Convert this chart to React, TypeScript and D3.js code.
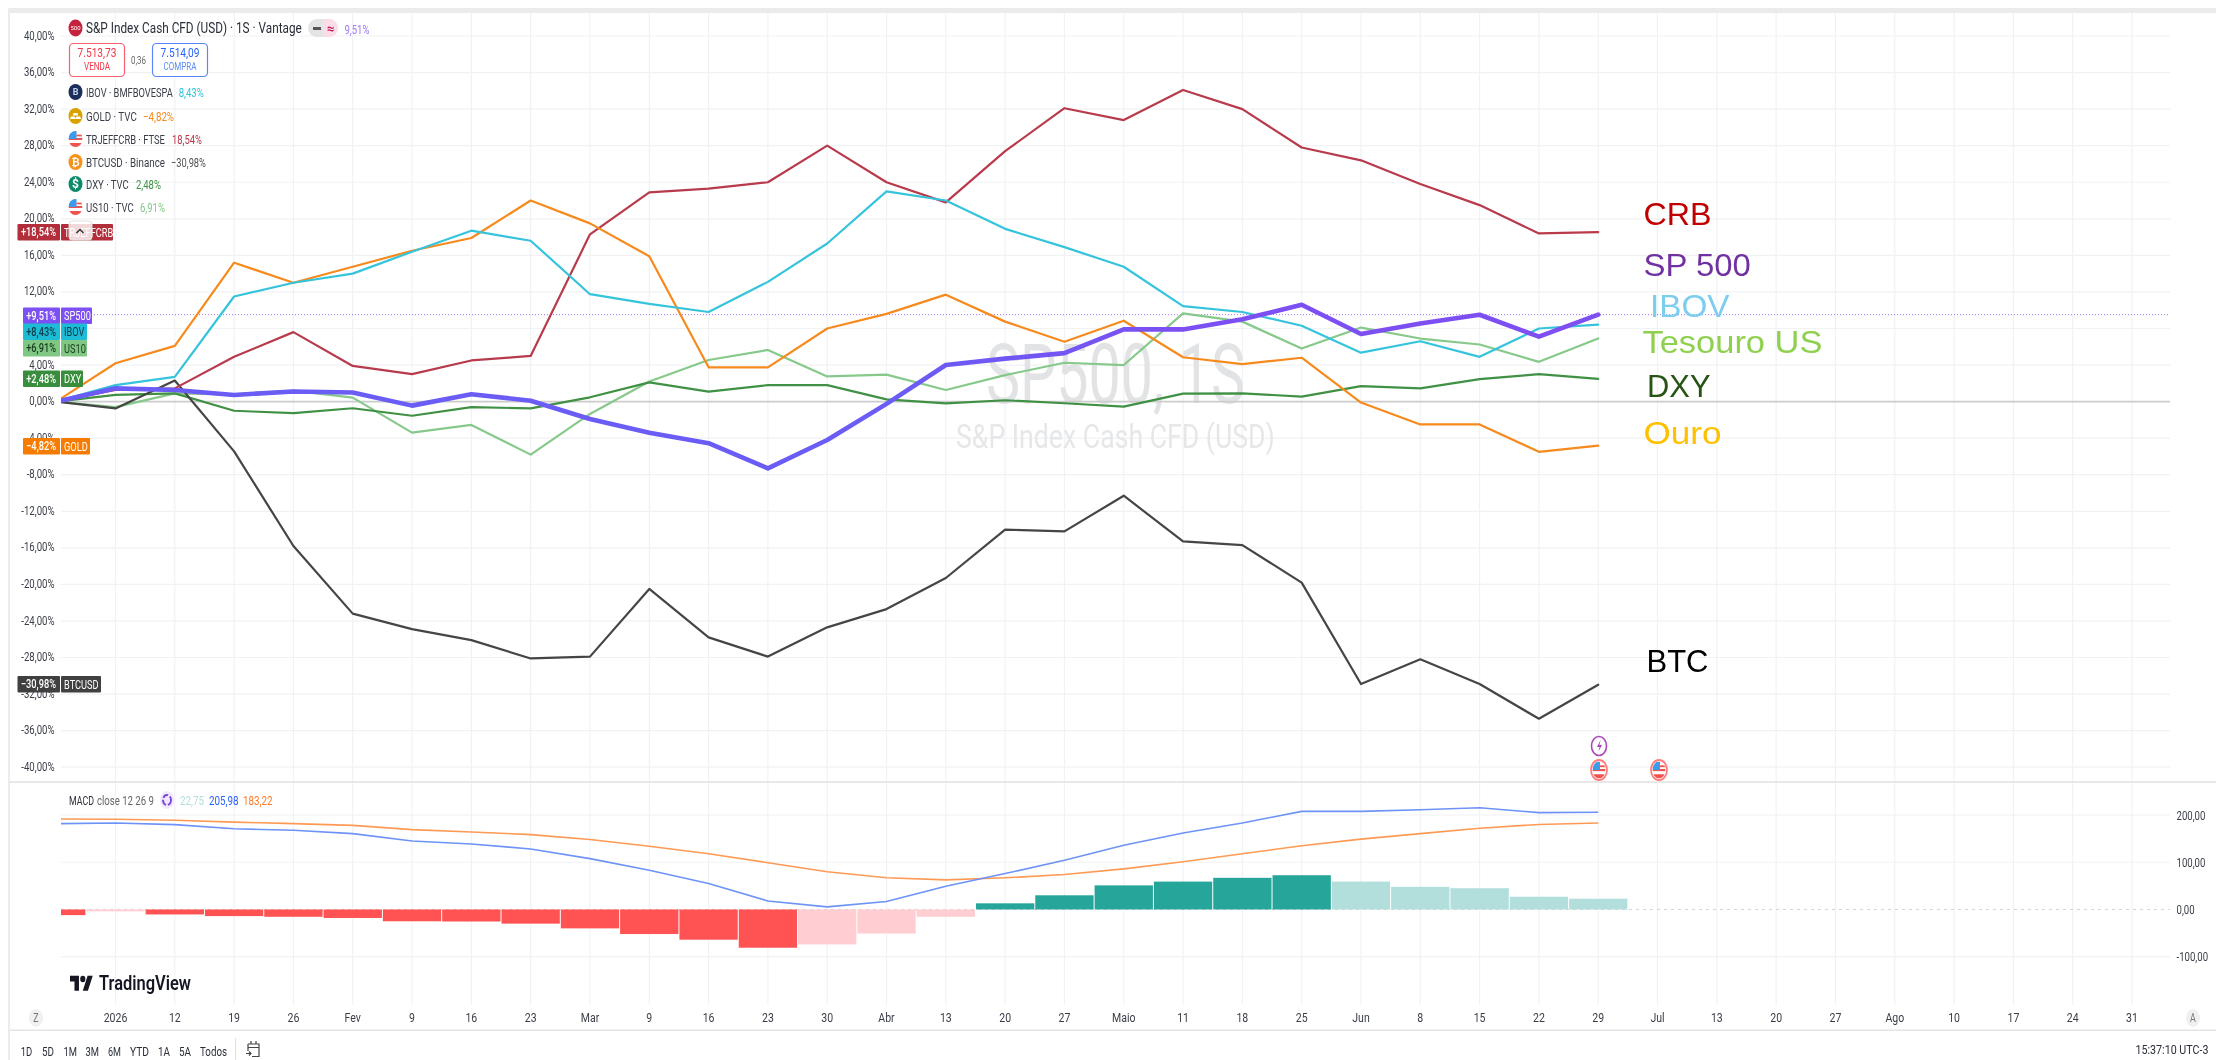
import React from "react";
import * as d3 from "d3";

// ---------- data (weekly points, first one is the week before the "2026" tick) ----------
const sp500 = [0, 1.45, 1.27, 0.73, 1.1, 1.0, -0.44, 0.8, 0.1, -1.9, -3.4, -4.55, -7.3, -4.2, -0.25, 4.0, 4.7, 5.3, 7.9, 7.9, 9.0, 10.6, 7.4, 8.55, 9.5, 7.1, 9.51];
const ibov = [0, 1.8, 2.7, 11.5, 13.0, 14.0, 16.4, 18.7, 17.6, 11.75, 10.7, 9.8, 13.1, 17.3, 23.0, 22.0, 18.9, 16.9, 14.75, 10.45, 9.8, 8.3, 5.35, 6.6, 4.9, 8.0, 8.43];
const gold = [0, 4.2, 6.1, 15.2, 13.0, 14.75, 16.5, 17.9, 22.0, 19.5, 15.9, 3.75, 3.75, 8.0, 9.6, 11.7, 8.75, 6.55, 8.85, 4.85, 4.1, 4.8, -0.1, -2.5, -2.5, -5.5, -4.82];
const crb = [0, 1.27, 1.45, 4.9, 7.6, 3.9, 3.0, 4.5, 5.0, 18.3, 22.9, 23.3, 24.0, 28.0, 24.0, 21.8, 27.4, 32.1, 30.8, 34.1, 32.0, 27.8, 26.4, 23.8, 21.5, 18.4, 18.54];
const btc = [0, -0.75, 2.3, -5.45, -15.8, -23.2, -24.9, -26.1, -28.1, -27.9, -20.5, -25.8, -27.9, -24.7, -22.7, -19.3, -14.0, -14.2, -10.3, -15.3, -15.7, -19.8, -30.9, -28.2, -30.9, -34.7, -30.98];
const dxy = [0, 0.73, 0.9, -1.0, -1.27, -0.73, -1.55, -0.6, -0.75, 0.47, 2.1, 1.1, 1.8, 1.8, 0.25, -0.2, 0.15, -0.18, -0.55, 0.87, 0.9, 0.55, 1.7, 1.45, 2.45, 3.0, 2.48];
const us10 = [0, -0.6, 0.9, 0.8, 1.2, 0.44, -3.4, -2.55, -5.8, -1.35, 2.2, 4.55, 5.65, 2.75, 2.95, 1.27, 2.9, 4.25, 4.0, 9.65, 8.75, 5.8, 8.1, 6.9, 6.25, 4.35, 6.91];

const macdLine = [181.7, 183, 179.6, 171, 167.6, 160.6, 145, 138.7, 128, 107.7, 83, 55, 18, 5.6, 17, 49, 76, 104, 136, 162, 183, 207.7, 207.7, 211, 215.5, 205, 205.98];
const signalLine = [191.5, 191, 189, 185, 181.7, 178, 169, 164, 158.5, 148, 134, 118, 99, 80, 67, 62.7, 67, 74, 86, 101, 118, 135, 149, 160.5, 172, 180, 183.22];
const histogram = [-12, -4, -10.5, -14, -15.5, -18, -25, -25.5, -30, -40, -52, -64, -81, -74, -51, -15.5, 13, 30, 51, 59, 67, 72.5, 59, 48, 45, 27, 22.75];

const priceTicks = d3.range(-40, 41, 4);
const macdTicks = [200, 100, 0, -100];
const timeLabels = ["2026", "12", "19", "26", "Fev", "9", "16", "23", "Mar", "9", "16", "23", "30", "Abr", "13", "20", "27", "Maio", "11", "18", "25", "Jun", "8", "15", "22", "29", "Jul", "13", "20", "27", "Ago", "10", "17", "24", "31"];
const rangeLabels = ["1D", "5D", "1M", "3M", "6M", "YTD", "1A", "5A", "Todos"];
const rangeX = [[20.7, 11.5], [42, 12], [63.5, 13.5], [85.5, 13.5], [108, 13], [130, 19], [158, 12], [179, 12], [200, 27]];

const seriesStyles = [
  { name: "US10", values: us10, color: "#86c98a", width: 2.2 },
  { name: "DXY", values: dxy, color: "#3f9144", width: 2.2 },
  { name: "BTC", values: btc, color: "#454545", width: 2.2 },
  { name: "CRB", values: crb, color: "#b83a4c", width: 2.2 },
  { name: "GOLD", values: gold, color: "#f78a1e", width: 2.2 },
  { name: "IBOV", values: ibov, color: "#35c4dc", width: 2.2 },
];

const tags = [
  { pct: "+18,54%", name: "TRJEFFCRB", bg: "#b22f3b", fg: "#fff", top: 224, x0: 17.5, x1: 113 },
  { pct: "+9,51%", name: "SP500", bg: "#7e4ff2", fg: "#fff", top: 307.5, x0: 23, x1: 92 },
  { pct: "+8,43%", name: "IBOV", bg: "#1fbcd6", fg: "#0b3c48", top: 323.5, x0: 23, x1: 87 },
  { pct: "+6,91%", name: "US10", bg: "#81c784", fg: "#173d1c", top: 340, x0: 23, x1: 87 },
  { pct: "+2,48%", name: "DXY", bg: "#388e3c", fg: "#fff", top: 370.5, x0: 23, x1: 83 },
  { pct: "−4,82%", name: "GOLD", bg: "#f57c00", fg: "#fff", top: 438, x0: 23, x1: 90 },
  { pct: "−30,98%", name: "BTCUSD", bg: "#3f3f3f", fg: "#fff", top: 676, x0: 17.5, x1: 101 },
];

const notes = [
  { t: "CRB", x: 1643.5, y: 225, w: 68, c: "#c00000" },
  { t: "SP 500", x: 1643.5, y: 276, w: 108, c: "#7030a0" },
  { t: "IBOV", x: 1650, y: 317, w: 79.5, c: "#7dcdee" },
  { t: "Tesouro US", x: 1642.5, y: 353, w: 180, c: "#8fd050" },
  { t: "DXY", x: 1647, y: 397, w: 63.6, c: "#275317" },
  { t: "Ouro", x: 1643.5, y: 444, w: 78, c: "#ffc000" },
  { t: "BTC", x: 1646.5, y: 672, w: 62, c: "#000" },
];

const legendRows = [
  { icon: "ibov", y: 92, label: "IBOV · BMFBOVESPA", w: 87, val: "8,43%", vx: 178.7, vw: 25, c: "#35c4dc" },
  { icon: "gold", y: 116, label: "GOLD · TVC", w: 51, val: "−4,82%", vx: 143, vw: 31, c: "#f78a1e" },
  { icon: "flag", y: 139, label: "TRJEFFCRB · FTSE", w: 79, val: "18,54%", vx: 172, vw: 30, c: "#b83a4c" },
  { icon: "btc", y: 162, label: "BTCUSD · Binance", w: 79, val: "−30,98%", vx: 171, vw: 35, c: "#555" },
  { icon: "dxy", y: 184, label: "DXY · TVC", w: 43, val: "2,48%", vx: 136, vw: 25, c: "#3f9144" },
  { icon: "flag", y: 207, label: "US10 · TVC", w: 48, val: "6,91%", vx: 140, vw: 25, c: "#86c98a" },
];

// ---------- scales ----------
const PLOT_L = 61;
const PLOT_R = 2170;
const x = d3.scaleLinear().domain([0, 34]).range([115.5, 2132]);
const y = d3.scaleLinear().domain([-40, 40]).range([767.2, 36]);
const ym = d3.scaleLinear().domain([-100, 200]).range([956.7, 815]);
const step = x(1) - x(0);
const xAt = (i: number) => x(i - 1);

const priceLine = d3.line<number>().x((_, i) => xAt(i)).y((d) => y(d));
const macdPath = d3.line<number>().x((_, i) => xAt(i)).y((d) => ym(d));

const FONT = "Roboto, sans-serif";
const NOTE_FONT = "'Liberation Sans', Arial, sans-serif";

const measureCtx = typeof document !== "undefined" ? document.createElement("canvas").getContext("2d") : null;
function fitScale(text: string, width: number, size: number, weight: number, family: string) {
  if (!measureCtx) return 0.8;
  measureCtx.font = `${weight} ${size}px ${family}`;
  const m = measureCtx.measureText(text).width;
  return m > 0 ? width / m : 0.8;
}

function T({ x: tx, y: ty, w, sx = 0.74, size = 13, fill = "#3a3e48", anchor = "start", weight = 400, family = FONT, baseline = false, children }: any) {
  const s = w ? fitScale(String(children), w, size, weight, family) : sx;
  return (
    <text transform={`translate(${tx},${ty}) scale(${s},1)`} dy={baseline ? 0 : "0.35em"} fontSize={size} fontWeight={weight} fontFamily={family} fill={fill} textAnchor={anchor}>
      {children}
    </text>
  );
}

function Flag({ id, cx, cy, rx, ry, ring }: any) {
  return (
    <g>
      <clipPath id={id}>
        <ellipse cx={cx} cy={cy} rx={rx} ry={ry} />
      </clipPath>
      <g clipPath={`url(#${id})`}>
        <rect x={cx - rx} y={cy - ry} width={2 * rx} height={2 * ry} fill="#fff" />
        <rect x={cx - rx} y={cy - 1} width={2 * rx} height={ry * 0.25} fill="#ef5350" />
        <rect x={cx - rx} y={cy + ry * 0.5} width={2 * rx} height={ry * 0.5} fill="#ef5350" />
        <rect x={cx - rx} y={cy - ry} width={rx * 1.15} height={ry} fill="#3d9be9" />
        <rect x={cx + rx * 0.15} y={cy - ry * 0.55} width={rx} height={ry * 0.22} fill="#ef5350" />
      </g>
      {ring && <ellipse cx={cx} cy={cy} rx={rx + 1.5} ry={ry + 1.5} fill="none" stroke="#ff7d7d" strokeWidth={1.8} />}
    </g>
  );
}

function Icon({ kind, cy, id }: any) {
  const cx = 75.5;
  if (kind === "flag") return <Flag id={id} cx={cx} cy={cy} rx={7} ry={8} />;
  if (kind === "gold")
    return (
      <g>
        <ellipse cx={cx} cy={cy} rx={7} ry={8} fill="#d8a300" />
        <path d={`M${cx - 1.8} ${cy - 3}h3.6l1 2.6h-5.6zM${cx - 4.6} ${cy + 0.4}h3.8l1 2.6h-5.8zM${cx + 0.8} ${cy + 0.4}h3.8l1 2.6h-5.8z`} fill="#fff" />
      </g>
    );
  const map: any = {
    ibov: { bg: "#1c2f5c", t: "B", fs: 9 },
    btc: { bg: "#f5921e", t: "₿", fs: 10 },
    dxy: { bg: "#0f8a6b", t: "$", fs: 12 },
  };
  const m = map[kind];
  return (
    <g>
      <ellipse cx={cx} cy={cy} rx={7} ry={8} fill={m.bg} />
      <text x={cx} y={cy} dy="0.36em" textAnchor="middle" fontFamily={FONT} fontWeight={700} fontSize={m.fs} fill={kind === "ibov" ? "#c8d4ee" : "#fff"}>
        {m.t}
      </text>
    </g>
  );
}

const axisLabel = (v: number) => `${v < 0 ? "-" : ""}${Math.abs(v).toFixed(2).replace(".", ",")}`;

export default function App() {
  return (
    <svg width={2216} height={1060} viewBox="0 0 2216 1060" style={{ position: "fixed", left: 0, top: 0, display: "block", background: "#fff" }}>
      <defs>
        <clipPath id="plot">
          <rect x={PLOT_L} y={13} width={PLOT_R - PLOT_L} height={770} />
        </clipPath>
        <clipPath id="pane">
          <rect x={PLOT_L} y={784} width={PLOT_R - PLOT_L} height={225} />
        </clipPath>
        <linearGradient id="spGrad" gradientUnits="userSpaceOnUse" x1={PLOT_L} x2={1598} y1={0} y2={0}>
          <stop offset="0" stopColor="#6a5cf4" />
          <stop offset="0.55" stopColor="#6a5cf4" />
          <stop offset="0.72" stopColor="#7b50f2" />
          <stop offset="1" stopColor="#7e4ff2" />
        </linearGradient>
        <filter id="soft" filterUnits="userSpaceOnUse" x={0} y={0} width={2216} height={1060}>
          <feGaussianBlur stdDeviation="0.4" />
        </filter>
      </defs>

      <g filter="url(#soft)">
        {/* frame */}
        <rect x={8} y={8} width={2208} height={5} fill="#ebebeb" />
        <rect x={8} y={8} width={2} height={1052} fill="#ececec" />

        {/* grid */}
        <g stroke="#f1f2f4" strokeWidth={1.2}>
          {timeLabels.map((_, i) => (
            <line key={i} x1={x(i)} x2={x(i)} y1={13} y2={1005} />
          ))}
          {priceTicks.filter((t) => t !== 0).map((t) => (
            <line key={t} x1={PLOT_L} x2={PLOT_R} y1={y(t)} y2={y(t)} />
          ))}
          {macdTicks.filter((t) => t !== 0).map((t) => (
            <line key={t} x1={PLOT_L} x2={PLOT_R} y1={ym(t)} y2={ym(t)} />
          ))}
        </g>

        {/* watermark */}
        <T x={986} y={403} w={259} size={84} fill="#e2e3e5" baseline>SP500, 1S</T>
        <T x={956} y={448} w={319} size={33} fill="#e6e7e9" baseline>S&amp;P Index Cash CFD (USD)</T>

        {/* zero + price lines */}
        <line x1={PLOT_L} x2={PLOT_R} y1={y(0)} y2={y(0)} stroke="#cccccc" strokeWidth={1.8} />
        <line x1={PLOT_L} x2={PLOT_R} y1={y(9.51)} y2={y(9.51)} stroke="#7e4ff2" strokeWidth={1} strokeDasharray="1 2" opacity={0.8} />

        {/* series */}
        <g clipPath="url(#plot)" fill="none" strokeLinejoin="round" strokeLinecap="round">
          {seriesStyles.map((s) => (
            <path key={s.name} d={priceLine(s.values) as string} stroke={s.color} strokeWidth={s.width} />
          ))}
          <path d={priceLine(sp500) as string} stroke="url(#spGrad)" strokeWidth={4.6} />
        </g>

        {/* MACD */}
        <line x1={PLOT_L} x2={PLOT_R} y1={ym(0)} y2={ym(0)} stroke="#d4d4d4" strokeWidth={1} strokeDasharray="3 4" />
        <g clipPath="url(#pane)">
          {histogram.map((h, i) => {
            const prev = i > 0 ? histogram[i - 1] : h - 1;
            const strong = h >= 0 ? h > prev : h < prev || i === 0;
            const fill = h >= 0 ? (strong ? "#26a69a" : "#b2dfdb") : strong ? "#ff5252" : "#ffcdd2";
            return (
              <rect key={i} x={xAt(i) - step / 2 + 0.5} width={step - 1} y={Math.min(ym(h), ym(0))} height={Math.abs(ym(h) - ym(0))} fill={fill} />
            );
          })}
          <path d={macdPath(signalLine) as string} fill="none" stroke="#ff9a55" strokeWidth={1.6} />
          <path d={macdPath(macdLine) as string} fill="none" stroke="#6d93f7" strokeWidth={1.6} />
        </g>

        {/* separators */}
        <rect x={10} y={781} width={2206} height={2} fill="#e8e8e8" />
        <rect x={10} y={1029.5} width={2206} height={1.5} fill="#e4e4e4" />

        {/* left axis */}
        {priceTicks.map((t) => (
          <T key={t} x={54.5} y={y(t) - 1} anchor="end">{axisLabel(t)}%</T>
        ))}

        {/* right axis */}
        {macdTicks.map((t) => (
          <T key={t} x={2176.5} y={ym(t)}>{axisLabel(t)}</T>
        ))}

        {/* time axis */}
        {timeLabels.map((l, i) => (
          <T key={i} x={x(i)} y={1017} anchor="middle" size={13.5} sx={0.78}>{l}</T>
        ))}
        <ellipse cx={36} cy={1018} rx={7} ry={9} fill="#f0f0f0" />
        <T x={36} y={1018} anchor="middle" size={12} fill="#777">Z</T>
        <ellipse cx={2193} cy={1018} rx={7} ry={9} fill="#f0f0f0" />
        <T x={2193} y={1018} anchor="middle" size={12} fill="#777">A</T>

        {/* tags */}
        {tags.map((t) => (
          <g key={t.name}>
            <rect x={t.x0} y={t.top} width={60 - t.x0} height={16.5} fill={t.bg} rx={1} />
            <rect x={61} y={t.top} width={t.x1 - 61} height={16.5} fill={t.bg} rx={1} />
            <T x={56} y={t.top + 8} anchor="end" size={12.5} fill={t.fg} weight={500}>{t.pct}</T>
            <T x={64} y={t.top + 8.5} size={12.5} fill={t.fg}>{t.name}</T>
          </g>
        ))}
        {/* collapse button */}
        <rect x={69} y={221} width={23} height={19} rx={3} fill="#fff" fillOpacity={0.82} stroke="#e0e0e0" />
        <path d="M76.5 233 l3.5 -3.5 l3.5 3.5" fill="none" stroke="#333" strokeWidth={1.5} />

        {/* main legend */}
        <ellipse cx={75.5} cy={28} rx={7} ry={8.5} fill="#c4213c" />
        <text x={75.5} y={28} dy="0.35em" textAnchor="middle" fontSize={6} fontFamily={FONT} fill="#fff">500</text>
        <T x={86} y={28} w={216} size={15} fill="#2a2e39">S&amp;P Index Cash CFD (USD) · 1S · Vantage</T>
        <rect x={308} y={19} width={30} height={18} rx={9} fill="#e4e4e4" />
        <path d="M323 19h6a9 9 0 0 1 0 18h-6z" fill="#fbdde8" />
        <rect x={313} y={27} width={8} height={3} fill="#555" />
        <T x={330.5} y={28} anchor="middle" size={13} sx={1} fill="#c2185b" weight={700}>≈</T>
        <T x={344.5} y={29} w={25} size={13} fill="#a07cf6">9,51%</T>

        <rect x={69.5} y={43.5} width={55} height={33} rx={4} fill="#fff" stroke="#f7606c" strokeWidth={1.2} />
        <T x={97} y={52} w={39} anchor="middle" size={13.5} fill="#f23645">7.513,73</T>
        <T x={97} y={66} w={26} anchor="middle" size={11} fill="#f23645">VENDA</T>
        <T x={131} y={60} w={15} size={11} fill="#666">0,36</T>
        <rect x={152.5} y={43.5} width={55} height={33} rx={4} fill="#fff" stroke="#5a86f7" strokeWidth={1.2} />
        <T x={180} y={52} w={39} anchor="middle" size={13.5} fill="#2962ff">7.514,09</T>
        <T x={180} y={66} w={33} anchor="middle" size={11} fill="#5d8bf7">COMPRA</T>

        {legendRows.map((r, i) => (
          <g key={r.label}>
            <Icon kind={r.icon} cy={r.y} id={`lf${i}`} />
            <T x={86} y={r.y} w={r.w} size={13} fill="#3a3e48">{r.label}</T>
            <T x={r.vx} y={r.y + 0.5} w={r.vw} size={13} fill={r.c}>{r.val}</T>
          </g>
        ))}

        {/* events */}
        <ellipse cx={1599} cy={746} rx={7.5} ry={9.5} fill="#fff" stroke="#ab47bc" strokeWidth={1.6} />
        <path d="M1600.5 740 l-3.5 7 h2.6 l-1.4 5 l3.8 -7 h-2.6z" fill="#ab47bc" />
        <Flag id="ev1" cx={1599} cy={770} rx={6.5} ry={8.5} ring />
        <Flag id="ev2" cx={1659} cy={770} rx={6.5} ry={8.5} ring />

        {/* MACD legend */}
        <T x={69} y={800} w={25} size={13} fill="#2a2e39">MACD</T>
        <T x={97} y={800} w={57} size={13} fill="#666">close 12 26 9</T>
        <ellipse cx={167} cy={800} rx={7} ry={9} fill="#f0e9fb" />
        <ellipse cx={167} cy={800} rx={4} ry={5} fill="none" stroke="#7b3fe0" strokeWidth={1.8} strokeDasharray="6 2" />
        <T x={180} y={800} w={24} size={13} fill="#b2dfdb">22,75</T>
        <T x={209} y={800} w={29.5} size={13} fill="#2962ff">205,98</T>
        <T x={243} y={800} w={29.5} size={13} fill="#ff7b26">183,22</T>

        {/* logo */}
        <g transform="translate(70,972.4) scale(0.64,0.83)" fill="#131722">
          <path d="M14 22H7V11H0V4h14v18zM28 22h-8l7.5-18h8L28 22z" />
          <circle cx={20} cy={8} r={4} />
        </g>
        <T x={99} y={983} w={92} size={20} fill="#131722" weight={600}>TradingView</T>

        {/* bottom bar */}
        {rangeLabels.map((l, i) => (
          <T key={l} x={rangeX[i][0]} y={1051} w={rangeX[i][1]} size={13.5} fill="#2a2e39">{l}</T>
        ))}
        <line x1={235.5} x2={235.5} y1={1038} y2={1060} stroke="#e0e0e0" />
        <g fill="none" stroke="#444" strokeWidth={1.2}>
          <path d="M248 1044h11v12.5h-7M248 1044v7M248 1047.5h11M251 1041v3.5M256 1041v3.5" />
          <path d="M246 1053.5h5m-2 -2l2 2l-2 2" />
        </g>
        <T x={2135.5} y={1049} w={73} size={13} fill="#2a2e39">15:37:10 UTC-3</T>

        {/* typed annotations */}
        {notes.map((n) => (
          <T key={n.t} x={n.x} y={n.y} w={n.w} size={32} family={NOTE_FONT} fill={n.c} baseline>{n.t}</T>
        ))}
      </g>
    </svg>
  );
}
